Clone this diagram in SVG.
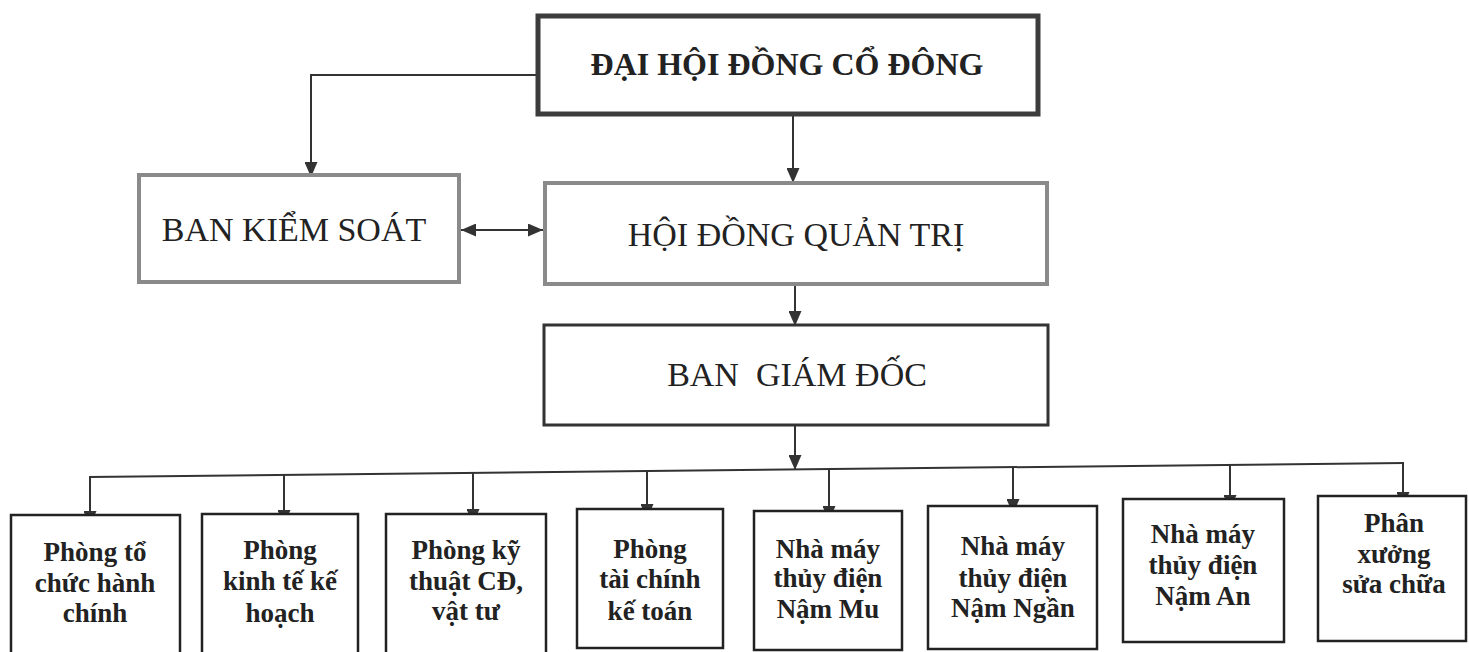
<svg xmlns="http://www.w3.org/2000/svg" width="1469" height="652" viewBox="0 0 1469 652">
<style>
.bg{fill:#ffffff}
.top{fill:#fff;stroke:#3c3c3c;stroke-width:5}
.gray{fill:#fff;stroke:#8a8a8a;stroke-width:4}
.dark{fill:#fff;stroke:#333;stroke-width:3}
.unit{fill:#fff;stroke:#222;stroke-width:2.5}
.t1{font-family:"Liberation Serif","Times New Roman",serif;font-weight:bold;font-size:32px;fill:#222;text-anchor:middle}
.t2{font-family:"Liberation Serif","Times New Roman",serif;font-size:34px;fill:#222;text-anchor:middle}
.t3{font-family:"Liberation Serif","Times New Roman",serif;font-weight:bold;font-size:27px;fill:#222;text-anchor:middle}
.c{fill:none;stroke:#333;stroke-width:2}
</style>
<defs>
<marker id="ah" viewBox="0 0 15 13" refX="15" refY="6.5" markerWidth="15" markerHeight="13" markerUnits="userSpaceOnUse" orient="auto-start-reverse">
<path d="M0,0 L15,6.5 L0,13 z" fill="#333"/>
</marker>
</defs>
<rect class="bg" x="0" y="0" width="1469" height="652"/>

<g id="connectors">
<polyline class="c" points="536,75 311,75 311,177" marker-end="url(#ah)"/>
<line class="c" x1="793" y1="116" x2="793" y2="183" marker-end="url(#ah)"/>
<line class="c" x1="461" y1="230" x2="543" y2="230" marker-start="url(#ah)" marker-end="url(#ah)"/>
<line class="c" x1="795" y1="285" x2="795" y2="326" marker-end="url(#ah)"/>
<line class="c" x1="795" y1="425" x2="795" y2="470" marker-end="url(#ah)"/>
<line class="c" x1="89" y1="477" x2="1404" y2="463"/>
<line class="c" x1="90" y1="477" x2="90" y2="526" marker-end="url(#ah)"/>
<line class="c" x1="284" y1="475" x2="284" y2="525" marker-end="url(#ah)"/>
<line class="c" x1="473" y1="473" x2="473" y2="524" marker-end="url(#ah)"/>
<line class="c" x1="647" y1="471" x2="647" y2="519" marker-end="url(#ah)"/>
<line class="c" x1="829" y1="469" x2="829" y2="521" marker-end="url(#ah)"/>
<line class="c" x1="1013" y1="467" x2="1013" y2="514" marker-end="url(#ah)"/>
<line class="c" x1="1230" y1="465" x2="1230" y2="510" marker-end="url(#ah)"/>
<line class="c" x1="1403" y1="463" x2="1403" y2="507" marker-end="url(#ah)"/>
</g>

<g id="dhdcd">
<rect class="top" x="538" y="16" width="500" height="98"/>
<text class="t1" x="787" y="75">ĐẠI HỘI ĐỒNG CỔ ĐÔNG</text>
</g>

<g id="bks">
<rect class="gray" x="139" y="175" width="320" height="107"/>
<text class="t2" x="294" y="241">BAN KIỂM SOÁT</text>
</g>

<g id="hdqt">
<rect class="gray" x="545" y="183" width="502" height="101"/>
<text class="t2" x="796" y="246">HỘI ĐỒNG QUẢN TRỊ</text>
</g>

<g id="bgd">
<rect class="dark" x="544" y="325" width="504" height="100"/>
<text class="t2" x="797" y="386" xml:space="preserve">BAN  GIÁM ĐỐC</text>
</g>

<g id="u1">
<rect class="unit" x="11" y="515" width="169" height="150"/>
<text class="t3" x="95" y="561">Phòng tổ</text>
<text class="t3" x="95" y="592">chức hành</text>
<text class="t3" x="95" y="622">chính</text>
</g>

<g id="u2">
<rect class="unit" x="202" y="514" width="156" height="150"/>
<text class="t3" x="280" y="559">Phòng</text>
<text class="t3" x="280" y="590">kinh tế kế</text>
<text class="t3" x="280" y="622">hoạch</text>
</g>

<g id="u3">
<rect class="unit" x="386" y="514" width="160" height="150"/>
<text class="t3" x="466" y="559">Phòng kỹ</text>
<text class="t3" x="466" y="590">thuật CĐ,</text>
<text class="t3" x="466" y="620">vật tư</text>
</g>

<g id="u4">
<rect class="unit" x="577" y="509" width="146" height="139"/>
<text class="t3" x="650" y="558">Phòng</text>
<text class="t3" x="650" y="588">tài chính</text>
<text class="t3" x="650" y="620">kế toán</text>
</g>

<g id="u5">
<rect class="unit" x="754" y="511" width="148" height="139"/>
<text class="t3" x="828" y="558">Nhà máy</text>
<text class="t3" x="828" y="587">thủy điện</text>
<text class="t3" x="828" y="618">Nậm Mu</text>
</g>

<g id="u6">
<rect class="unit" x="928" y="506" width="169" height="143"/>
<text class="t3" x="1013" y="555">Nhà máy</text>
<text class="t3" x="1013" y="587">thủy điện</text>
<text class="t3" x="1013" y="617">Nậm Ngần</text>
</g>

<g id="u7">
<rect class="unit" x="1123" y="499" width="161" height="143"/>
<text class="t3" x="1203" y="543">Nhà máy</text>
<text class="t3" x="1203" y="574">thủy điện</text>
<text class="t3" x="1203" y="605">Nậm An</text>
</g>

<g id="u8">
<rect class="unit" x="1318" y="496" width="148" height="145"/>
<text class="t3" x="1394" y="532">Phân</text>
<text class="t3" x="1394" y="563">xưởng</text>
<text class="t3" x="1394" y="593">sửa chữa</text>
</g>
</svg>
